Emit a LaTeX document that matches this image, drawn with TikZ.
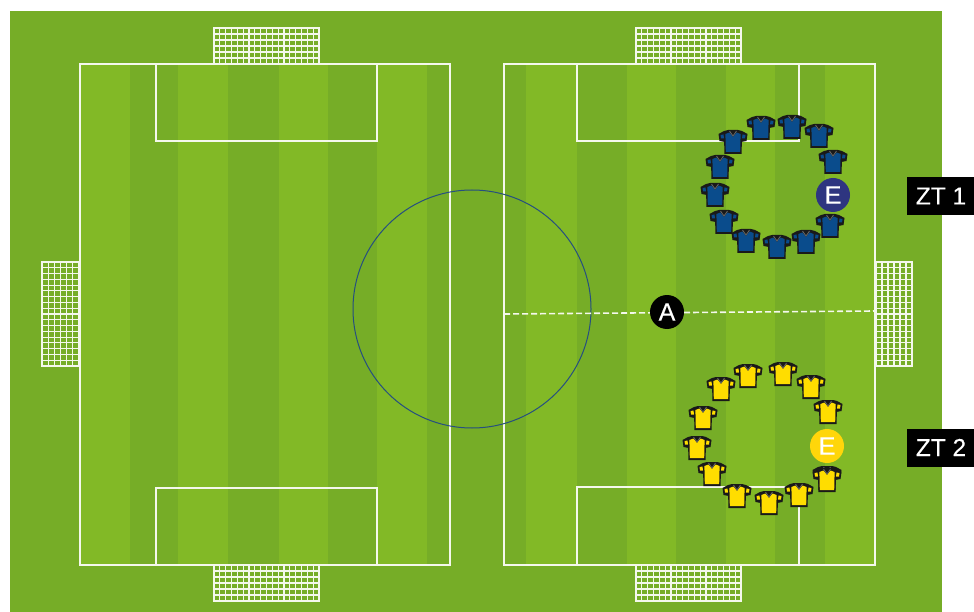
\documentclass[tikz,border=0pt]{standalone}
\usepackage{fontspec}
\setmainfont{Liberation Sans}
\newfontfamily\labelfont[FakeBold=0.35]{Liberation Sans}
\definecolor{grassdark}{HTML}{76AD27}
\definecolor{grasslight}{HTML}{82B926}
\definecolor{linewhite}{HTML}{F4F8EC}
\definecolor{shirtblue}{HTML}{0A4C8C}
\definecolor{shirtyellow}{HTML}{FFDD00}
\definecolor{discblue}{HTML}{2E3580}
\definecolor{discyellow}{HTML}{FFD60A}
\definecolor{ringblue}{HTML}{264F80}
\tikzset{
  fieldline/.style={draw=linewhite,line width=1.2pt},
  netline/.style={draw=linewhite,line width=1.15pt},
  netframe/.style={draw=linewhite,line width=1.6pt},
  disc/.style={circle,minimum size=34pt,inner sep=0pt,text=white,font=\labelfont\fontsize{25}{25}\selectfont},
  ztbox/.style={fill=black,text=white,minimum width=68pt,minimum height=38pt,inner sep=0pt,font=\labelfont\fontsize{24.5}{24.5}\selectfont},
  pics/shirt/.style={code={
    % sleeves
    \fill[black!90] (-5,-12) -- (-9,-11) -- (-14.5,-8) -- (-13.5,-1) -- (-8,0) -- (8,0) -- (13.5,-1) -- (14.5,-8) -- (9,-11) -- (5,-12) -- cycle;
    \fill[#1] (-12.5,-7) -- (-9.5,-7.5) -- (-9,-3.5) -- (-12,-3.5) -- cycle;
    \fill[#1] (12.5,-7) -- (9.5,-7.5) -- (9,-3.5) -- (12,-3.5) -- cycle;
    % body
    \fill[black!90] (-9,-9) -- (9,-9) -- (8.6,12) -- (-8.6,12) -- cycle;
    \fill[#1] (-7.6,-8) -- (-3.5,-9.5) -- (0,-5) -- (3.5,-9.5) -- (7.6,-8) -- (7.2,10) -- (-7.2,10) -- cycle;
    \draw[black!60,line width=0.8pt] (-3.5,-11) -- (0,-6) -- (3.5,-11);
  }}
}
\begin{document}
\begin{tikzpicture}[x=1pt,y=-1pt]
\useasboundingbox (0,0) rectangle (974,612);
\fill[white] (0,0) rectangle (974,612);
\fill[grassdark] (10,11) rectangle (942,612);
% stripes, left pitch
\foreach \a/\b in {80/130,178/228,279/328,377/427}
  \fill[grasslight] (\a,64) rectangle (\b,565);
% stripes, right pitch
\foreach \a/\b in {526/577,627/676,726/775,825/875}
  \fill[grasslight] (\a,64) rectangle (\b,565);
% goal nets
\foreach \gx/\gy/\gw/\gh/\nx/\ny in {214/28/105/36/18/6,214/565/105/36/18/6,636/28/105/36/18/6,636/565/105/36/18/6,42/262/37/104/6/18,876/262/36/104/6/18}{
  \foreach \i in {0,...,\nx}
    \draw[netline] ({\gx+\gw*\i/\nx},\gy) -- ({\gx+\gw*\i/\nx},{\gy+\gh});
  \foreach \j in {0,...,\ny}
    \draw[netline] (\gx,{\gy+\gh*\j/\ny}) -- ({\gx+\gw},{\gy+\gh*\j/\ny});
  \draw[netframe] (\gx,\gy) rectangle ({\gx+\gw},{\gy+\gh});
}
% pitches and penalty areas
\draw[fieldline] (80,64) rectangle (450,565);
\draw[fieldline] (504,64) rectangle (875,565);
\draw[fieldline] (156,64) rectangle (377,141);
\draw[fieldline] (156,488) rectangle (377,565);
\draw[fieldline] (577,64) rectangle (799,141);
\draw[fieldline] (577,487) rectangle (799,565);
% centre circle
\draw[ringblue,line width=1pt] (472,309) circle[radius=119];
% dashed line and coach
\coordinate (dashstart) at (504,314);
\coordinate (dashend) at (875,311);
\draw[linewhite,line width=1.6pt,dash pattern=on 6pt off 3pt] (dashstart) -- (dashend);
\node[disc,fill=black] (coach) at (667,312) {A};
% blue shirts
\foreach \x/\y in {733/142,761/128,792/127,819/136,833/162,720/167,715/195,724/222,746/241,777/247,806/242,830/226}
  \pic at (\x,\y) {shirt=shirtblue};
\node[disc,fill=discblue] (eblue) at (833,195) {E};
% yellow shirts
\foreach \x/\y in {721/389,748/376,783/374,811/387,828/412,703/418,697/448,712/474,737/496,769/503,799/495,827/478,827/480}
  \pic at (\x,\y) {shirt=shirtyellow};
\node[disc,fill=discyellow] (eyellow) at (827,446) {E};
% labels
\node[ztbox] (zt1) at (941,196) {ZT 1};
\node[ztbox] (zt2) at (941,447.5) {ZT 2};
\end{tikzpicture}
\end{document}
